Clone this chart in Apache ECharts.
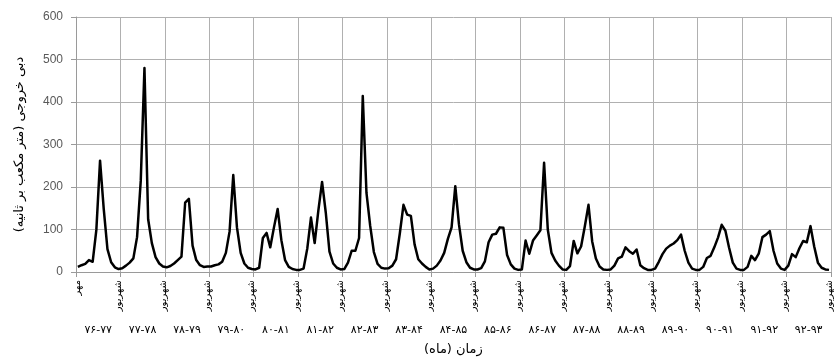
<!DOCTYPE html>
<html>
<head>
<meta charset="utf-8">
<script src="https://cdn.jsdelivr.net/npm/echarts@6/dist/echarts.min.js"></script>
<style>
  html, body { margin: 0; padding: 0; background: #fff; }
  #flow { width: 834px; height: 361px; }
</style>
</head>
<body>
<div id="flow"></div>
<script>
// ماه‌های سال آبی (مهر تا شهریور)
const months = ['مهر', 'آبان', 'آذر', 'دی', 'بهمن', 'اسفند', 'فروردین', 'اردیبهشت', 'خرداد', 'تیر', 'مرداد', 'شهریور']
const yearLabels = ['۷۶-۷۷', '۷۷-۷۸', '۷۸-۷۹', '۷۹-۸۰', '۸۰-۸۱', '۸۱-۸۲', '۸۲-۸۳', '۸۳-۸۴', '۸۴-۸۵',
  '۸۵-۸۶', '۸۶-۸۷', '۸۷-۸۸', '۸۸-۸۹', '۸۹-۹۰', '۹۰-۹۱', '۹۱-۹۲', '۹۲-۹۳']
const yTicks = [0, 100, 200, 300, 400, 500, 600]

// دبی ماهانه هر سال (متر مکعب بر ثانیه)
const flow7677 = [12, 16, 19, 28, 24, 99, 262, 148, 54, 23, 11, 7]
const flow7778 = [9, 15, 22, 32, 82, 215, 480, 124, 68, 35, 20, 13]
const flow7879 = [11, 14, 20, 28, 36, 163, 172, 62, 28, 16, 12, 13]
const flow7980 = [13, 16, 18, 24, 45, 95, 228, 105, 45, 20, 10, 7]
const flow8081 = [6, 10, 80, 92, 58, 105, 148, 75, 28, 12, 7, 5]
const flow8182 = [5, 8, 55, 128, 68, 145, 212, 140, 48, 20, 10, 6]
const flow8283 = [7, 22, 50, 50, 80, 414, 186, 109, 47, 19, 10, 8]
const flow8384 = [9, 15, 30, 90, 158, 135, 132, 65, 30, 20, 12, 6]
const flow8485 = [8, 15, 27, 45, 78, 105, 202, 112, 50, 23, 10, 6]
const flow8586 = [6, 9, 25, 70, 88, 90, 105, 104, 40, 18, 8, 5]
const flow8687 = [6, 74, 43, 74, 86, 98, 257, 100, 45, 27, 15, 6]
const flow8788 = [5, 14, 73, 44, 60, 107, 158, 72, 32, 13, 6, 5]
const flow8889 = [6, 15, 32, 36, 58, 49, 43, 53, 16, 9, 5, 5]
const flow8990 = [8, 24, 42, 55, 62, 67, 75, 88, 50, 22, 8, 5]
const flow9091 = [5, 12, 33, 38, 58, 81, 111, 97, 57, 22, 8, 5]
const flow9192 = [5, 12, 38, 28, 43, 82, 88, 96, 50, 20, 8, 5]
const flow9293 = [15, 42, 35, 56, 73, 70, 108, 60, 22, 10, 6, 5]

const yearFlows = [flow7677, flow7778, flow7879, flow7980, flow8081, flow8182, flow8283, flow8384, flow8485,
  flow8586, flow8687, flow8788, flow8889, flow8990, flow9091, flow9192, flow9293]

const categories = []
let flows = []
yearLabels.forEach((year, k) => {
  months.forEach(m => categories.push(m + '|' + year))
  flows = flows.concat(yearFlows[k])
})

const gridColor = '#b0b0b0'
const faFont = 'DejaVu Sans'

const myChart = echarts.init(document.getElementById('flow'))
const option = {
  backgroundColor: '#fff',
  animation: false,
  grid: { left: 76, top: 17, width: 759, height: 256 },
  xAxis: [
    {
      type: 'category',
      data: categories,
      boundaryGap: true,
      axisLine: { lineStyle: { color: '#9a9a9a', width: 1 } },
      axisTick: {
        show: true,
        length: 5,
        interval: (i) => i % 12 === 0,
        lineStyle: { color: '#9a9a9a' }
      },
      splitLine: {
        show: true,
        interval: (i) => i % 12 === 0,
        lineStyle: { color: gridColor, width: 1 }
      },
      axisLabel: {
        interval: (i) => i === 0 || i % 12 === 11,
        rotate: 90,
        margin: 8,
        fontFamily: faFont,
        fontSize: 10,
        color: '#000',
        formatter: (v) => v.split('|')[0]
      }
    },
    {
      type: 'category',
      data: yearLabels,
      boundaryGap: true,
      position: 'bottom',
      offset: 51,
      axisLine: { show: false },
      axisTick: { show: false },
      splitLine: { show: false },
      axisLabel: {
        interval: 0,
        margin: 2,
        fontFamily: faFont,
        fontSize: 11,
        color: '#000',
        // نمایش چپ به راست مانند تصویر اصلی
        formatter: (v) => '\u202D' + v + '\u202C'
      },
      name: 'زمان (ماه)',
      nameLocation: 'middle',
      nameGap: 20,
      nameTextStyle: { fontFamily: faFont, fontSize: 13, color: '#000' }
    }
  ],
  yAxis: {
    type: 'value',
    min: yTicks[0],
    max: yTicks[yTicks.length - 1],
    interval: 100,
    axisLine: { show: true, lineStyle: { color: '#9a9a9a' } },
    axisTick: { show: true, length: 5, lineStyle: { color: '#9a9a9a' } },
    splitLine: { show: true, lineStyle: { color: gridColor, width: 1 } },
    axisLabel: {
      margin: 13,
      fontFamily: 'Liberation Sans',
      fontSize: 12,
      color: '#595959'
    },
    name: 'دبی خروجی (متر مکعب بر ثانیه)',
    nameLocation: 'middle',
    nameGap: 50,
    nameTextStyle: { fontFamily: faFont, fontSize: 13, color: '#000' }
  },
  series: [
    {
      type: 'line',
      data: flows,
      xAxisIndex: 0,
      symbol: 'none',
      smooth: false,
      lineStyle: { color: '#000', width: 2.5, join: 'round' }
    }
  ]
}
myChart.setOption(option)
window.addEventListener('resize', () => {
  myChart.resize()
})
</script>
</body>
</html>
